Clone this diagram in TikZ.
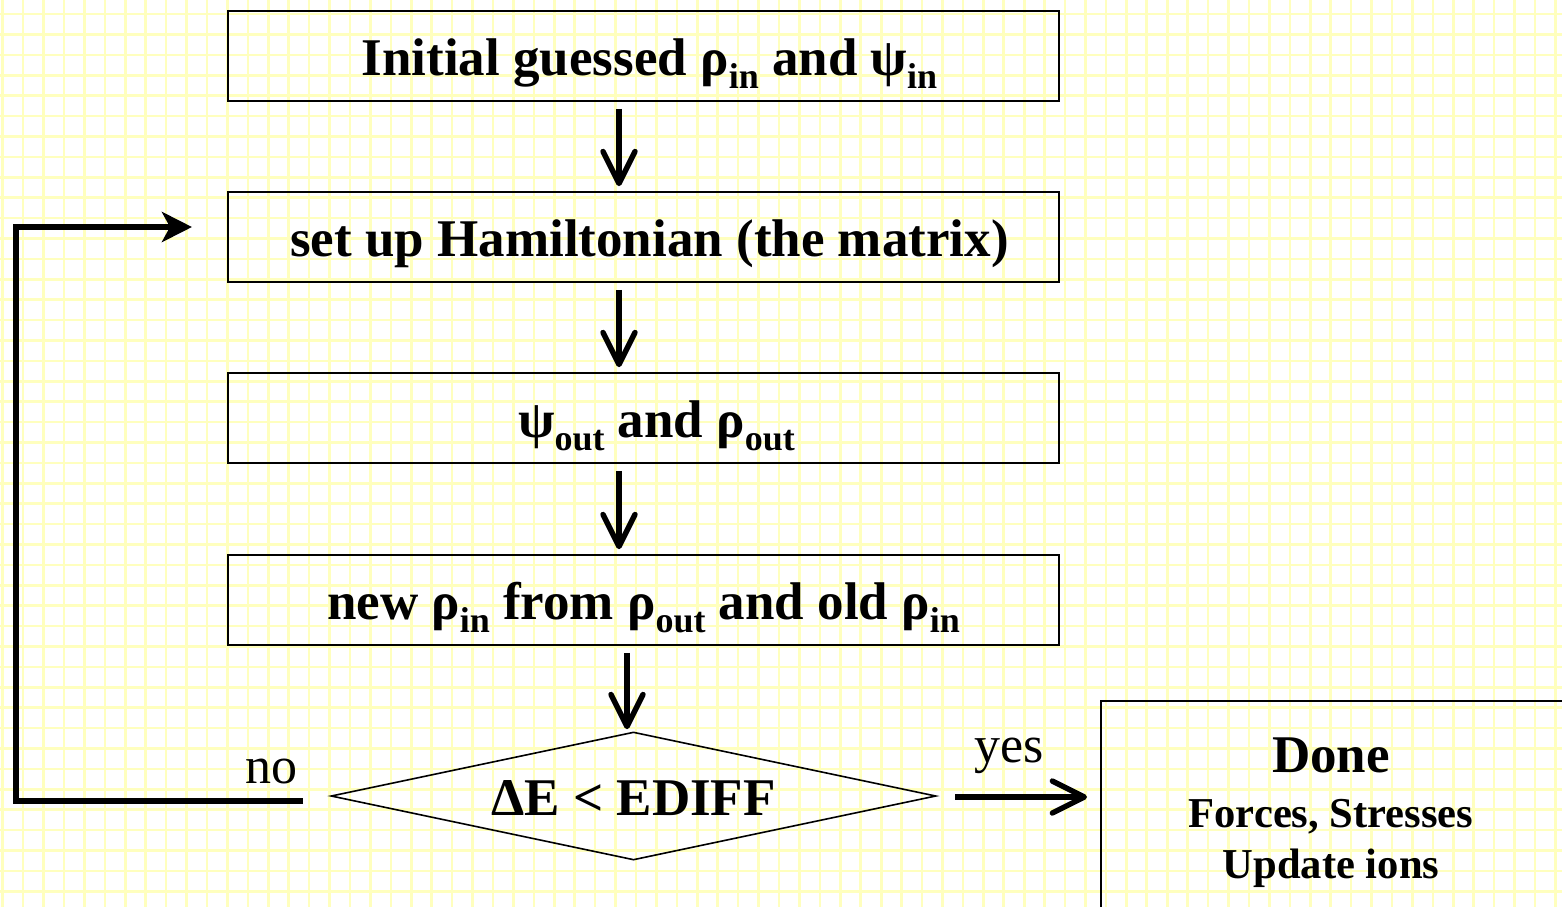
\documentclass[tikz,border=0pt]{standalone}
\usepackage{fontspec}
\setmainfont{Liberation Serif}
\usetikzlibrary{arrows.meta,shapes.geometric}
\newcommand{\sbsc}[1]{\raisebox{-6.5pt}{\fontsize{18}{20}\selectfont #1}}
\definecolor{gridyellow}{RGB}{255,255,190}
\begin{document}
\begin{tikzpicture}[x=0.5pt,y=-0.5pt,
  gridln/.style={draw=gridyellow, line width=1.3pt},
  stepbox/.style={draw, line width=0.8pt, minimum width=415.5pt, minimum height=45pt,
    inner sep=0pt, font=\fontsize{26.5}{30}\selectfont\bfseries, text height=21pt, text depth=2pt},
  decision/.style={diamond, draw, line width=0.8pt, minimum width=302.5pt, minimum height=64pt,
    shape aspect=4.73, inner sep=0pt, font=\fontsize{26.5}{30}\selectfont\bfseries,
    text height=19pt, text depth=0pt},
  downarr/.style={line width=2.7pt, -{Straight Barb[length=16pt,width=16pt,round]}},
  looparr/.style={line width=2.8pt, line join=miter, -{Stealth[length=15pt,width=15pt,inset=4pt]}},
  lbl/.style={font=\fontsize{26}{30}\selectfont, inner sep=0pt},
  donetxt/.style={font=\bfseries, inner sep=0pt, anchor=base}]
\useasboundingbox (0,0) rectangle (1562,906);
\clip (0,0) rectangle (1562,906);
\fill[white] (0,0) rectangle (1562,906);
\foreach \i in {0,...,76} \draw[gridln] ({2.7+20.43*\i},-10) -- ({2.7+20.43*\i},920);
\foreach \j in {0,...,45} \draw[gridln] (-10,{-6.4+20.4*\j}) -- (1580,{-6.4+20.4*\j});

\node[stepbox] (b1) at (643.5,56) {\hspace*{6pt}Initial guessed ρ\sbsc{in} and ψ\sbsc{in}};
\node[stepbox] (b2) at (643.5,237) {\hspace*{6pt}set up Hamiltonian (the matrix)};
\node[stepbox] (b3) at (643.5,418) {\hspace*{13pt}ψ\sbsc{out} and ρ\sbsc{out}};
\node[stepbox] (b4) at (643.5,600) {new ρ\sbsc{in} from ρ\sbsc{out} and old ρ\sbsc{in}};
\node[decision] (dec) at (633.5,796) {ΔE < EDIFF};
\node[draw, line width=0.8pt, minimum width=300pt, minimum height=150pt, anchor=north west, inner sep=0pt] (done) at (1100,700) {};
\node[donetxt, font=\fontsize{26.5}{30}\selectfont\bfseries] (d1) at (1331,772) {Done};
\node[donetxt, font=\fontsize{21.3}{25}\selectfont\bfseries] (d2) at (1331,827) {Forces, Stresses};
\node[donetxt, font=\fontsize{21.3}{25}\selectfont\bfseries] (d3) at (1331,878) {Update ions};

\coordinate (a1) at (619,0);
\coordinate (a4) at (627,0);
\draw[downarr, shorten <=3.5pt, shorten >=2.5pt] (b1.south -| a1) -- (b2.north -| a1);
\draw[downarr, shorten <=3.5pt, shorten >=2.5pt] (b2.south -| a1) -- (b3.north -| a1);
\draw[downarr, shorten <=3.5pt, shorten >=2.5pt] (b3.south -| a1) -- (b4.north -| a1);
\draw[downarr, shorten <=3.5pt, shorten >=1pt] (b4.south -| a4) -- (dec.north -| a4);

\coordinate (noend) at (303,801);
\coordinate (lc) at (16,227);
\coordinate (loopend) at (192,227);
\draw[looparr] (noend) -| (lc) -- (loopend);
\node[lbl, anchor=base] (no) at (271,783) {no};

\coordinate (yesstart) at (955,797);
\draw[downarr, shorten >=6.5pt] (yesstart) -- (yesstart -| done.west);
\node[lbl, anchor=base] (yes) at (1009.5,762) {yes};
\end{tikzpicture}
\end{document}
